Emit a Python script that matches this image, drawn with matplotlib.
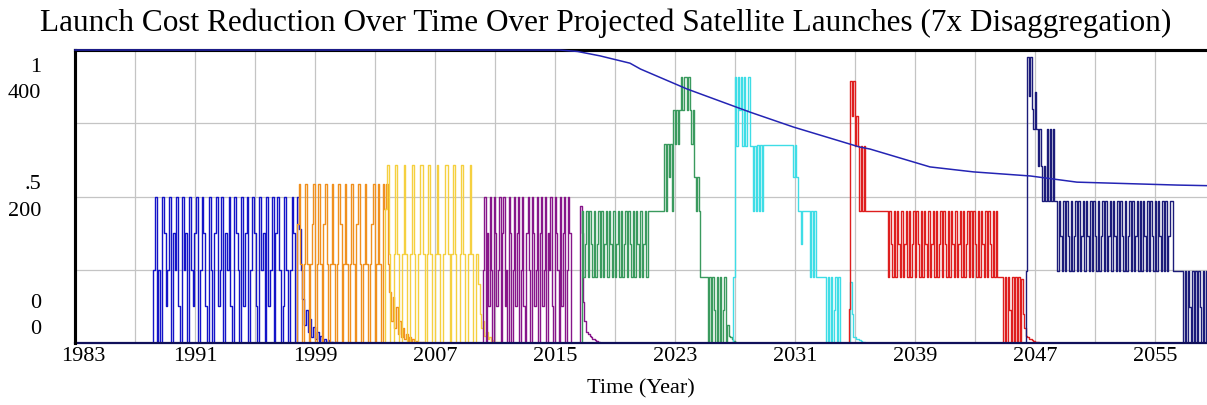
import numpy as np
import matplotlib
matplotlib.use("Agg")
import matplotlib.pyplot as plt
import matplotlib.transforms as mtransforms

# ---------------- data ----------------
title = "Launch Cost Reduction Over Time Over Projected Satellite Launches (7x Disaggregation)"
x_label = "Time (Year)"
year_start, year_end = 1983, 2058.47
xtick_years = [1983, 1991, 1999, 2007, 2015, 2023, 2031, 2039, 2047, 2055]

# launch cost reduction (fraction, scale 0..1)
cost_years = [1983, 2015.3, 2016.5, 2018.0, 2020.0, 2020.7, 2023.8, 2028.0, 2030.9,
              2035.3, 2036.0, 2040.0, 2042.9, 2046.7, 2049.8, 2056.5, 2058.47]
cost_values = [1.0, 1.0, 0.995, 0.98, 0.955, 0.935, 0.867, 0.788, 0.737,
               0.669, 0.662, 0.601, 0.584, 0.570, 0.549, 0.539, 0.537]

# satellite launches per generation (scale 0..400): start year, time step, values
blue_start, blue_dt = 1988.2, 0.12
blue_vals = [100, 200, 0, 100, 0, 200, 150, 50, 100, 200,
             0, 150, 100, 200, 50, 0, 200, 100, 150, 0,
             200, 100, 50, 150, 200, 0, 100, 200, 150, 50,
             0, 200, 100, 0, 150, 200, 50, 100, 200, 0,
             150, 100, 200, 50, 0, 200, 150, 100, 0, 200,
             50, 150, 200, 0, 100, 200, 150, 50, 0, 200,
             100, 150, 0, 200, 50, 100, 200, 0, 150, 200,
             100, 0, 50, 200, 100, 0, 100, 200, 150, 0,
             200, 155, 100, 60, 25, 45, 15, 33, 8, 22, 5, 15, 3, 10,
             2, 6, 1, 4, 0, 2, 0, 1, 0, 0, 0, 0, 0]

orange_start, orange_dt = 1997.8, 0.11
orange_vals = [162, 217, 108, 0, 108, 217, 108, 0, 108, 162,
               217, 0, 108, 217, 108, 0, 162, 217, 108, 0,
               108, 217, 108, 0, 108, 217, 162, 0, 108, 217,
               108, 0, 108, 217, 108, 0, 162, 217, 108, 0,
               108, 217, 108, 0, 108, 162, 217, 0, 108, 217,
               108, 0, 217, 183,
               217, 108, 70, 30, 63, 20, 49, 12, 30, 8, 20, 5, 12, 3, 8, 2,
               5, 1, 3, 0, 2, 0, 1, 0, 0, 0, 0, 0, 0, 0, 0, 0, 0]

yellow_start, yellow_dt = 2003.7, 0.11
yellow_vals = [183, 243, 121, 0, 0, 121, 243, 121, 0, 0,
               121, 243, 121, 0, 0, 121, 243, 121, 0, 0,
               121, 243, 243, 121, 0, 121, 243, 121, 0, 0,
               121, 243, 121, 0, 0, 121, 243, 243, 121, 0,
               121, 243, 121, 0, 0, 121, 243, 121, 0, 0,
               121, 243, 121, 0, 0,
               121, 80, 40, 20, 30, 10, 15, 5, 8, 2, 4, 0, 2, 0, 1, 0, 0, 0, 0, 0]

purple_start, purple_dt = 2010.2, 0.09
purple_vals = [100, 200, 0, 150, 50, 200, 100, 0, 200, 150,
               50, 100, 200, 0, 150, 200, 50, 100, 0, 200,
               150, 0, 100, 200, 50, 150, 200, 0, 100, 200,
               50, 0, 150, 200, 100, 0, 200, 150, 50, 100,
               200, 0, 150, 200, 50, 100, 200, 0, 150, 100,
               200, 50, 0, 200, 150, 100, 0, 200, 50, 150,
               200, 0, 100, 200, 150, 0,
               0, 0, 0, 0, 0, 0, 187, 150, 56, 30, 15, 15, 12, 10, 8, 6, 5, 4, 3, 2, 1, 0]

green_start, green_dt = 2016.8, 0.1
green_vals = [180, 90, 135, 180, 90, 180, 135, 90, 180, 90,
              135, 180, 90, 180, 90, 135, 180, 90, 180, 135,
              90, 180, 90, 135, 180, 90, 180, 90, 135, 180,
              90, 180, 135, 90, 180, 90, 180, 135, 90, 180,
              90, 135, 180, 90,
              180, 180, 180, 180, 180, 180, 180, 180, 180, 180, 180,
              272, 180, 272, 226, 272, 180, 318, 272, 318, 272, 318, 363,
              318, 363, 363, 318, 363, 318, 272, 318, 226, 180, 226, 180,
              90, 90, 90, 90, 90,
              0, 90, 0, 90, 45, 0, 90, 0, 90, 0, 45, 90, 0,
              25, 10, 8, 5, 3, 2, 0]

cyan_start, cyan_dt = 2026.9, 0.1
cyan_vals = [90, 363, 269, 363, 318, 363, 269, 363, 269, 318, 363, 269,
             269, 180, 269, 180, 270, 180, 270, 180,
             270, 270, 270, 270, 270, 270, 270, 270, 270, 270,
             270, 270, 270, 270, 270, 270, 270, 270, 270, 270,
             227, 270, 227,
             180, 180, 135, 180, 180, 180, 180, 180,
             90, 180, 90, 180, 90,
             90, 90, 90, 90, 90, 90,
             0, 90, 0, 90, 0, 45, 90, 0, 90, 0,
             0, 0, 0, 0, 0, 0,
             83, 40, 8, 8, 6, 5, 4, 3, 2, 1, 0, 0, 0, 0, 0]

red_start, red_dt = 2034.6, 0.1
red_vals = [46, 358, 310, 358, 269, 310, 269, 180, 269, 180, 269, 180, 180,
            180, 180, 180, 180, 180, 180, 180, 180, 180, 180, 180, 180, 180,
            90, 180, 135, 90, 180, 90, 180, 135, 90, 180,
            90, 135, 180, 90, 180, 90, 135, 180, 90, 180,
            135, 90, 180, 90, 180, 135, 90, 180, 90, 135,
            180, 90, 180, 90, 135, 180, 90, 180, 135, 90,
            180, 90, 180, 135, 90, 180, 90, 135, 180, 90,
            180, 90, 135, 180, 90, 180, 90, 180, 135, 90,
            180, 90, 180, 135, 90, 180, 90, 180, 135, 90,
            180, 90, 180,
            90, 90, 90, 90,
            0, 90, 0, 90, 45, 0, 90, 0, 90, 0, 90, 0,
            87, 40, 20, 10, 8, 6, 5, 4, 3, 2, 1, 1, 0, 0, 0]

navy_start, navy_dt = 2046.4, 0.1
navy_vals = [98, 390, 337, 390, 319, 292, 342, 292, 242, 292, 242, 194, 242, 194,
             292, 194, 292, 194, 292, 194, 194,
             98, 194, 146, 98, 194, 98, 194, 146, 98, 194,
             98, 146, 194, 98, 194, 98, 146, 194, 98, 194,
             146, 98, 194, 98, 194, 146, 98, 194, 98, 146,
             194, 98, 194, 98, 146, 194, 98, 194, 146, 98,
             194, 98, 194, 146, 98, 194, 98, 146, 194, 98,
             194, 98, 146, 194, 98, 194, 98, 194, 146, 98,
             194, 98, 194, 146, 98, 194, 98, 194, 146, 98,
             194, 98, 194, 98, 146, 194, 194,
             98, 98, 98, 98, 98, 98, 98,
             0, 98, 0, 98, 49, 0, 98, 0, 98, 0, 98, 49, 0, 98, 0, 98]

series = [
    (blue_start, blue_dt, blue_vals, "#1414C8"),
    (orange_start, orange_dt, orange_vals, "#F0901E"),
    (yellow_start, yellow_dt, yellow_vals, "#F5D040"),
    (purple_start, purple_dt, purple_vals, "#87168A"),
    (green_start, green_dt, green_vals, "#3A9A5E"),
    (cyan_start, cyan_dt, cyan_vals, "#3EDDE6"),
    (red_start, red_dt, red_vals, "#DE1E1E"),
    (navy_start, navy_dt, navy_vals, "#1C1C7A"),
]

# ---------------- figure ----------------
W, H = 1207, 406
fig = plt.figure(figsize=(W / 100, H / 100), dpi=100)
serif = ["Liberation Serif", "DejaVu Serif"]

L, R, T, B = 75, 1207, 51, 344
ax = fig.add_axes([L / W, 1 - B / H, (R - L) / W, (B - T) / H])
ax.set_xlim(year_start, year_end)
ax.set_ylim(0, 400)

# grid
for yr in np.arange(1987, 2059, 4):
    ax.axvline(yr, color="#C4C4C4", lw=0.9, zorder=0)
for v in [100, 200, 300]:
    ax.axhline(v, color="#C4C4C4", lw=0.9, zorder=0)

for start, dt, vals, col in series:
    t = start + dt * np.arange(len(vals))
    xs = np.concatenate([[year_start], t, [t[-1] + dt, year_end]])
    ys = np.concatenate([[0], vals, [0, 0]])
    ax.step(xs, ys, where="post", color=col, lw=1.0, zorder=2)

ax2 = ax.twinx()
ax2.set_ylim(0, 1)
ax2.plot(cost_years, cost_values, color="#2424B4", lw=1.1, zorder=5, clip_on=False)

for a in (ax, ax2):
    a.set_yticks([])
    for s in ("right", "bottom"):
        a.spines[s].set_visible(False)
    a.spines["left"].set_linewidth(2.2)
    a.spines["top"].set_linewidth(2.2)
    a.spines["left"].set_color("black")
    a.spines["top"].set_color("black")
ax.axhline(0, color="#10105A", lw=1.6, zorder=3, clip_on=False)

ax.set_xticks(xtick_years)
ax.set_xticklabels([str(y) for y in xtick_years], fontfamily=serif, fontsize=16)
ax.tick_params(axis="x", length=0, pad=2)
ax2.tick_params(axis="x", length=0)
# first label is pushed inside the frame, as in the original
first = ax.get_xticklabels()[0]
first.set_transform(first.get_transform() +
                    mtransforms.ScaledTranslation(8 / 100, 0, fig.dpi_scale_trans))

fig.text(641 / W, 1 - 389 / H, x_label, fontfamily=serif, fontsize=16,
         ha="center", va="center")
fig.text(606 / W, 1 - 23 / H, title, fontfamily=serif, fontsize=22.5,
         ha="center", va="center")

# y-axis labels (two scales: cost fraction and launches)
ylabels = [("1", 67), ("400", 93), (".5", 185), ("200", 212), ("0", 303), ("0", 330)]
for txt, ypx in ylabels:
    fig.text(41 / W, 1 - ypx / H, txt, fontfamily=serif, fontsize=16,
             ha="right", va="center")

fig.savefig("out.png", dpi=100)
